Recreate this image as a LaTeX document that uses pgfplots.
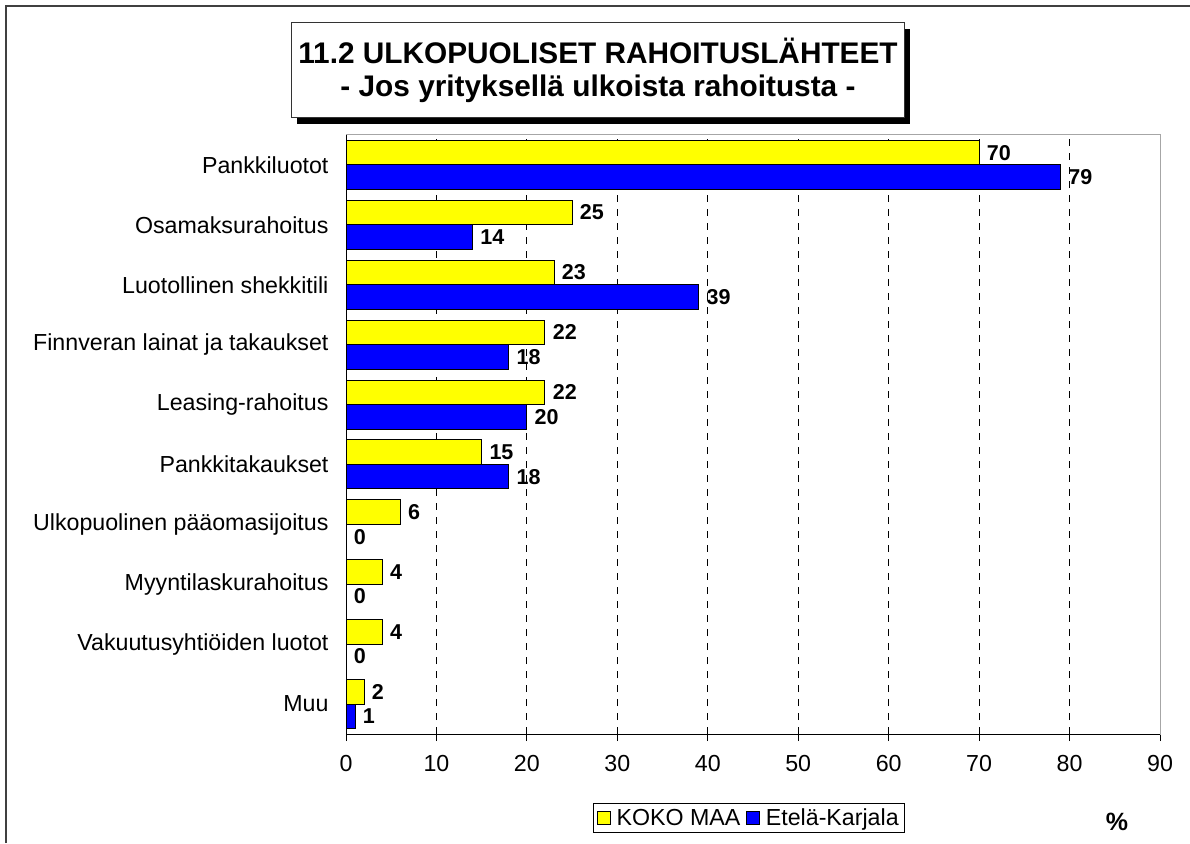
\documentclass[border=0pt]{standalone}
\usepackage{pgfplots}
\pgfplotsset{compat=1.18}
\usepackage{fontspec}
\setmainfont{Liberation Sans}
\definecolor{kyellow}{RGB}{255,255,0}
\definecolor{kblue}{RGB}{0,0,255}
\begin{document}
\begin{tikzpicture}[x=1pt,y=1pt,font=\fontsize{23.2}{27}\selectfont]
\path[use as bounding box] (0,0) rectangle (1190,843);
\draw[line width=2pt, black!75] (6,0) -- (6,837) -- (1190,837);
\begin{axis}[
  at={(346pt,109pt)}, anchor=south west,
  scale only axis, width=814pt, height=599pt,
  xbar, bar width=24.5pt,
  xmin=0, xmax=90, ymin=-0.5, ymax=9.5,
  xtick={0,10,...,90},
  ytick={0,...,9},
  yticklabels={Muu, Vakuutusyhtiöiden luotot, Myyntilaskurahoitus, Ulkopuolinen pääomasijoitus, Pankkitakaukset, Leasing-rahoitus, Finnveran lainat ja takaukset, Luotollinen shekkitili, Osamaksurahoitus, Pankkiluotot},
  /pgf/number format/assume math mode=true,
  xtick pos=bottom, tick align=outside,
  major tick length=7pt,
  xtick style={black, line width=0.8pt},
  ytick style={draw=none},
  y tick label style={xshift=-7pt},
  x tick label style={yshift=-11pt},
  axis line style={gray!70, line width=1pt},
  xmajorgrids,
  major grid style={black, line width=0.8pt, dash pattern=on 7pt off 7pt},
  nodes near coords,
  every node near coord/.append style={font=\fontsize{21.5}{25}\selectfont\bfseries, black, xshift=4pt},
  legend columns=2,
  legend style={at={(0.495,-0.140)}, anchor=center, draw=black, line width=0.6pt,
    font=\fontsize{23.2}{27}\selectfont, inner xsep=4pt, inner ysep=3pt,
    /tikz/every even column/.append style={column sep=4pt}},
  legend image code/.code={\draw[#1, draw=black, line width=1pt] (0pt,-6.5pt) rectangle (13pt,6.5pt); \path[draw=none, fill=none] (0pt,0pt) -- (17pt,0pt);},
]
\addplot[fill=kyellow, draw=black, line width=1pt, bar shift=12.25pt] coordinates {
  (70,9) (25,8) (23,7) (22,6) (22,5) (15,4) (6,3) (4,2) (4,1) (2,0)};
\addplot[fill=kblue, draw=black, line width=1pt, bar shift=-12.25pt] coordinates {
  (79,9) (14,8) (39,7) (18,6) (20,5) (18,4) (0,3) (0,2) (0,1) (1,0)};
\legend{KOKO MAA, Etelä-Karjala}
\draw[black, line width=1pt] (rel axis cs:0,1) -- (rel axis cs:0,0) -- (rel axis cs:1,0);
\end{axis}
\fill[black] (297,719) rectangle (910,814);
\draw[fill=white, draw=black!80, line width=1pt] (291,725) rectangle (904,820);
\node[font=\fontsize{29.8}{34}\selectfont\bfseries] at (598,792) {11.2 ULKOPUOLISET RAHOITUSLÄHTEET};
\node[font=\fontsize{29.8}{34}\selectfont\bfseries] at (598,754) {- Jos yrityksellä ulkoista rahoitusta -};
\node[font=\fontsize{25}{28}\selectfont\bfseries] at (1117,21) {\%};
\end{tikzpicture}
\end{document}
